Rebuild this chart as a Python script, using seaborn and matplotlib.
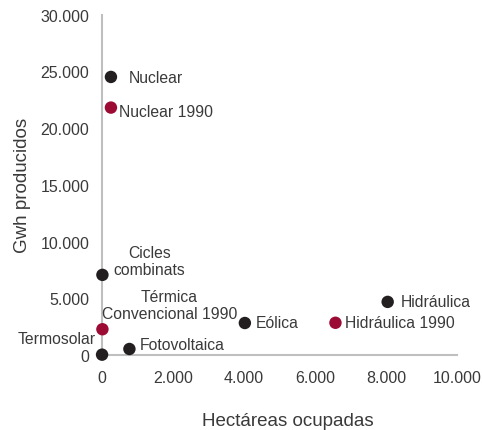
import pandas as pd
import matplotlib.pyplot as plt
import seaborn as sns
from matplotlib.ticker import FuncFormatter

# energy sources: hectares occupied vs GWh produced
labels = ["Nuclear", "Nuclear 1990", "Cicles\ncombinats", "Térmica\nConvencional 1990",
          "Termosolar", "Fotovoltaica", "Eólica", "Hidráulica", "Hidráulica 1990"]
hectareas = [260, 260, 20, 20, 10, 780, 4030, 8050, 6580]
gwh = [24500, 21800, 7060, 2270, 30, 530, 2820, 4680, 2840]
grupo = ["actual", "1990", "actual", "1990", "actual", "actual", "actual", "actual", "1990"]

# label offsets in pixels (dx, dy) and alignment
offsets = [(18, -1), (8, -4), (47, 14), (67, 24), (-6, 16), (10, 4), (11, 0), (13, 0), (10, 0)]
aligns = ["left", "left", "center", "center", "right", "left", "left", "left", "left"]

df = pd.DataFrame({"label": labels, "x": hectareas, "y": gwh, "grupo": grupo})

sns.set_style("white")
plt.rcParams["font.family"] = ["Liberation Sans", "DejaVu Sans"]
txt = "#3a3a3a"
grey = "#bfbfbf"

fig = plt.figure(figsize=(4.82, 4.31), dpi=100)
ax = fig.add_axes([0.211, 0.174, 0.737, 0.79])

sns.scatterplot(data=df, x="x", y="y", hue="grupo",
                palette={"actual": "#231f20", "1990": "#9b0b33"},
                s=80, edgecolor="none", legend=False, ax=ax, clip_on=False, zorder=3)

for lab, xv, yv, off, ha in zip(labels, hectareas, gwh, offsets, aligns):
    ax.annotate(lab, (xv, yv), xytext=off, textcoords="offset pixels",
                ha=ha, va="center", fontsize=11.3, color=txt, linespacing=1.15,
                multialignment="center")

ax.set_xlim(0, 10000)
ax.set_ylim(0, 30000)
ax.set_xticks(range(0, 10001, 2000))
ax.set_yticks(range(0, 30001, 5000))
fmt = FuncFormatter(lambda v, p: f"{int(v):,}".replace(",", "."))
ax.xaxis.set_major_formatter(fmt)
ax.yaxis.set_major_formatter(fmt)

sns.despine(ax=ax)
for sp in ["left", "bottom"]:
    ax.spines[sp].set_color(grey)
    ax.spines[sp].set_linewidth(1.5)
ax.tick_params(axis="both", colors=grey, labelcolor=txt, labelsize=11.5,
               direction="out", length=4, width=1.5)
ax.tick_params(axis="x", pad=7)
ax.tick_params(axis="y", pad=5)

ax.set_xlabel("Hectáreas ocupadas", fontsize=13.5, color=txt)
ax.xaxis.set_label_coords(0.524, -0.168)
ax.set_ylabel("Gwh producidos", fontsize=13.5, color=txt, labelpad=7)

fig.savefig("out.png", dpi=100)
